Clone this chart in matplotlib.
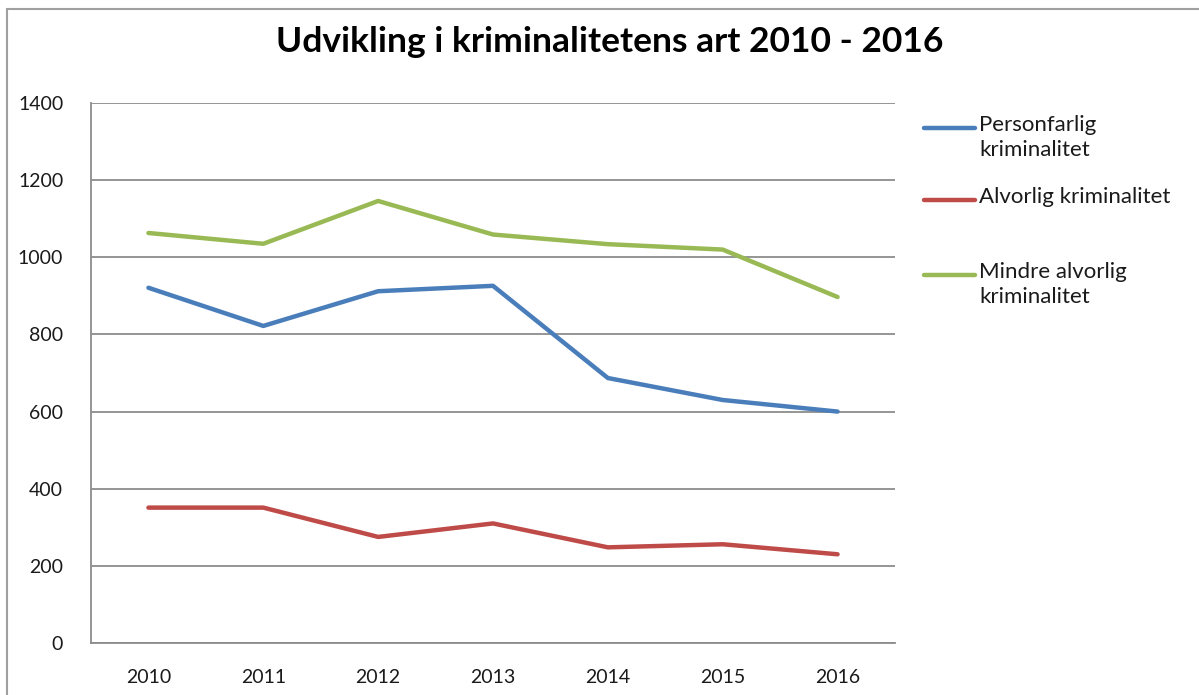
import matplotlib
matplotlib.use("Agg")
import matplotlib.pyplot as plt
from matplotlib.lines import Line2D
from matplotlib.patches import Rectangle

# data
years = ["2010", "2011", "2012", "2013", "2014", "2015", "2016"]
personfarlig = [921, 822, 912, 926, 687, 630, 600]
alvorlig = [351, 351, 275, 310, 248, 256, 230]
mindre_alvorlig = [1063, 1035, 1146, 1059, 1034, 1020, 897]

series_names = ["Personfarlig\nkriminalitet", "Alvorlig kriminalitet", "Mindre alvorlig\nkriminalitet"]
series_colors = ["#4A7EBB", "#BE4B48", "#98B954"]
y_ticks = [0, 200, 400, 600, 800, 1000, 1200, 1400]

plt.rcParams['font.family'] = ['Lato', 'DejaVu Sans']

W, H = 1199, 695
fig = plt.figure(figsize=(W / 100, H / 100), dpi=100)

# outer chart border (top and left visible)
fig.add_artist(Rectangle((7 / W, -0.05), 1.2, 1 - 9 / H + 0.05, transform=fig.transFigure,
                         fill=False, edgecolor="#A0A0A0", linewidth=1.5))

ax = fig.add_axes([91 / W, 1 - 643 / H, (895 - 91) / W, (643 - 103) / H])
x = list(range(len(years)))
for vals, col in zip([personfarlig, alvorlig, mindre_alvorlig], series_colors):
    ax.plot(x, vals, color=col, linewidth=3.2, solid_capstyle="round", solid_joinstyle="round")

ax.set_xlim(-0.5, len(years) - 0.5)
ax.set_ylim(0, 1400)
ax.set_yticks(y_ticks)
ax.set_xticks(x)
ax.set_xticklabels(years)
ax.yaxis.grid(True, color="#8C8C8C", linewidth=1.3)
ax.set_axisbelow(True)
for s in ["top", "right"]:
    ax.spines[s].set_visible(False)
for s in ["left", "bottom"]:
    ax.spines[s].set_color("#8C8C8C")
    ax.spines[s].set_linewidth(1.3)
ax.tick_params(axis="both", length=0, labelsize=14, colors="#1a1a1a")
ax.tick_params(axis="y", pad=20)
ax.tick_params(axis="x", pad=19)

fig.text(610 / W, 1 - 42 / H, "Udvikling i kriminalitetens art 2010 - 2016",
         ha="center", va="center", fontsize=25.5, fontweight="bold")

# legend, drawn by hand to match the uneven spacing
legend_y = [128, 200, 275]
for name, col, ly in zip(series_names, series_colors, legend_y):
    fig.add_artist(Line2D([924 / W, 975 / W], [1 - ly / H, 1 - ly / H], transform=fig.transFigure,
                          color=col, linewidth=3.2, solid_capstyle="round"))
    fig.text(979 / W, 1 - (ly - 13) / H, name, ha="left", va="top", fontsize=16,
             linespacing=1.3, color="#1a1a1a")

fig.savefig("out.png", dpi=100, facecolor="white")
